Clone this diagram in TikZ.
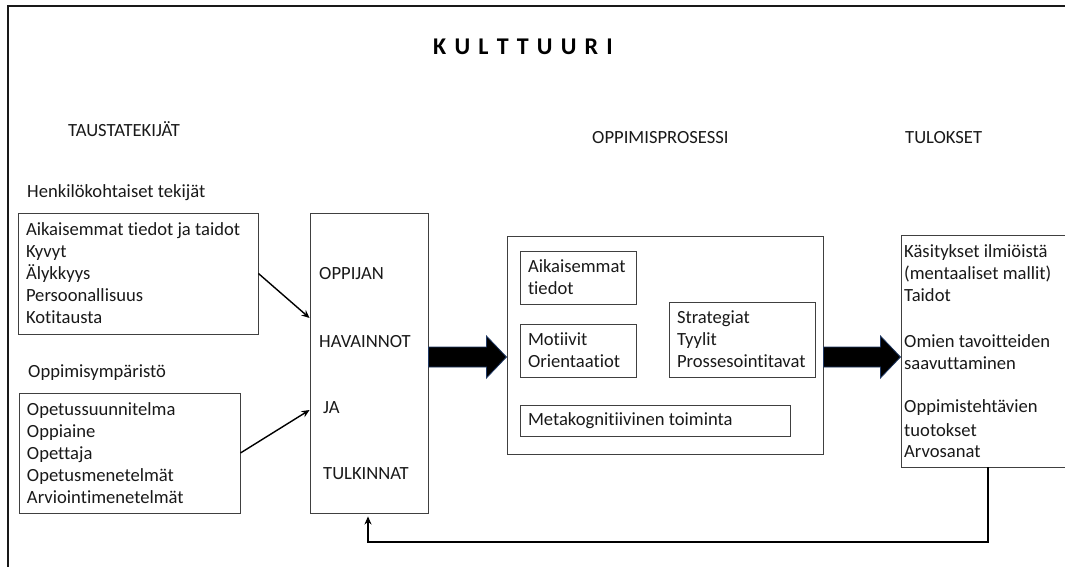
\documentclass[tikz,border=0pt]{standalone}
\usepackage{fontspec}
\setmainfont{Carlito}[Ligatures=NoCommon]
\usetikzlibrary{calc,arrows.meta}
\definecolor{frameline}{HTML}{404040}
\definecolor{arrowedge}{HTML}{1F3864}
\tikzset{
  txt/.style={font=\fontsize{18.6}{22}\selectfont, text=black!90, inner sep=0pt},
  lbl/.style={txt, anchor=base west},
  box/.style={draw=frameline, line width=0.9pt, align=flush left, inner xsep=8pt,
    inner ysep=0pt, font=\fontsize{18.6}{22}\selectfont, text=black!90},
  link/.style={line width=1.4pt, -{Stealth[length=8pt,width=7pt]}},
  blockarrow/.style={fill=black, draw=arrowedge, line width=0.8pt, line join=miter},
}
\begin{document}
\begin{tikzpicture}[x=1pt,y=1pt]
\useasboundingbox (0,0) rectangle (1065,-567);

% outer frame (culture)
\draw[line width=1.2pt, black!90] (8,-567) -- (8,-6) -- (1065,-6);

% title
\node[anchor=base, inner sep=0pt, font=\fontsize{24}{28}\selectfont\bfseries] (title) at (523,-55)
  {K\kern8.2pt U\kern8.2pt L\kern8.2pt T\kern8.2pt T\kern8.2pt U\kern8.2pt U\kern8.2pt R\kern8.2pt I};

% column headings
\node[lbl] (hbg)   at (68,-137)  {TAUSTATEKIJÄT};
\node[lbl] (hproc) at (592,-143) {OPPIMISPROSESSI};
\node[lbl] (hres)  at (905,-143) {TULOKSET};

% background factors
\node[lbl] (hpers) at (27,-197) {Henkilökohtaiset tekijät};
\node[box, minimum width=240pt, text width=224pt, minimum height=121pt] (pers) at (138,-273.5)
  {Aikaisemmat tiedot ja taidot\\Kyvyt\\Älykkyys\\Persoonallisuus\\Kotitausta};

\node[lbl] (henv) at (28,-377) {Oppimisympäristö};
\node[box, minimum width=221pt, text width=205pt, minimum height=120pt] (env) at (129.5,-453)
  {Opetussuunnitelma\\Oppiaine\\Opettaja\\Opetusmenetelmät\\Arviointimenetelmät};

% learner's perceptions
\node[box, minimum width=118pt, minimum height=300pt] (pj) at (369,-363) {};
\node[lbl] (p1) at (319,-279) {OPPIJAN};
\node[lbl] (p2) at (319,-347) {HAVAINNOT};
\node[lbl] (p3) at (323,-413) {JA};
\node[lbl] (p4) at (323,-479) {TULKINNAT};

% learning process
\node[box, minimum width=316pt, minimum height=218pt] (proc) at (665,-345) {};
\node[box, minimum width=116pt, text width=100pt, minimum height=53pt] (prior) at (578,-277.5)
  {Aikaisemmat\\tiedot};
\node[box, minimum width=116pt, text width=100pt, minimum height=53pt] (motiv) at (578,-350.5)
  {Motiivit\\Orientaatiot};
\node[box, minimum width=146pt, text width=130pt, minimum height=75pt] (strat) at (742,-339.5)
  {Strategiat\\Tyylit\\Prossesointitavat};
\node[box, minimum width=270pt, text width=254pt, minimum height=31pt] (meta) at (655,-420.5)
  {Metakognitiivinen toiminta};

% outcomes
\node[box, minimum width=174pt, minimum height=232pt] (res) at (988,-351) {};
\foreach \t/\y [count=\i] in {Käsitykset ilmiöistä/257, (mentaaliset mallit)/279, Taidot/301,
    Omien tavoitteiden/347, saavuttaminen/369, Oppimistehtävien/412, tuotokset/436, Arvosanat/457}
  \node[lbl] (r\i) at (904,-\y) {\t};

% arrows into the perceptions box
\draw[link] (pers.east) -- ($(pj.west)+(0,45)$);
\draw[link] (env.east) -- ($(pj.west)+(0,-47)$);

% block arrows between stages
\begin{scope}[shift={(pj.east)}]
  \draw[blockarrow] (0,16) -- (58,16) -- (58,27) -- (78,6) -- (58,-15) -- (58,-4) -- (0,-4) -- cycle;
\end{scope}
\begin{scope}[shift={(proc.east)}]
  \draw[blockarrow] (0,-2) -- (57,-2) -- (57,9) -- (77,-12) -- (57,-33) -- (57,-22) -- (0,-22) -- cycle;
\end{scope}

% feedback loop
\draw[line width=2pt, -{Stealth[length=8pt,width=7pt]}]
  (res.south) -- ++(0,-75) -| ($(pj.south)+(-1,-3)$);
\end{tikzpicture}
\end{document}
